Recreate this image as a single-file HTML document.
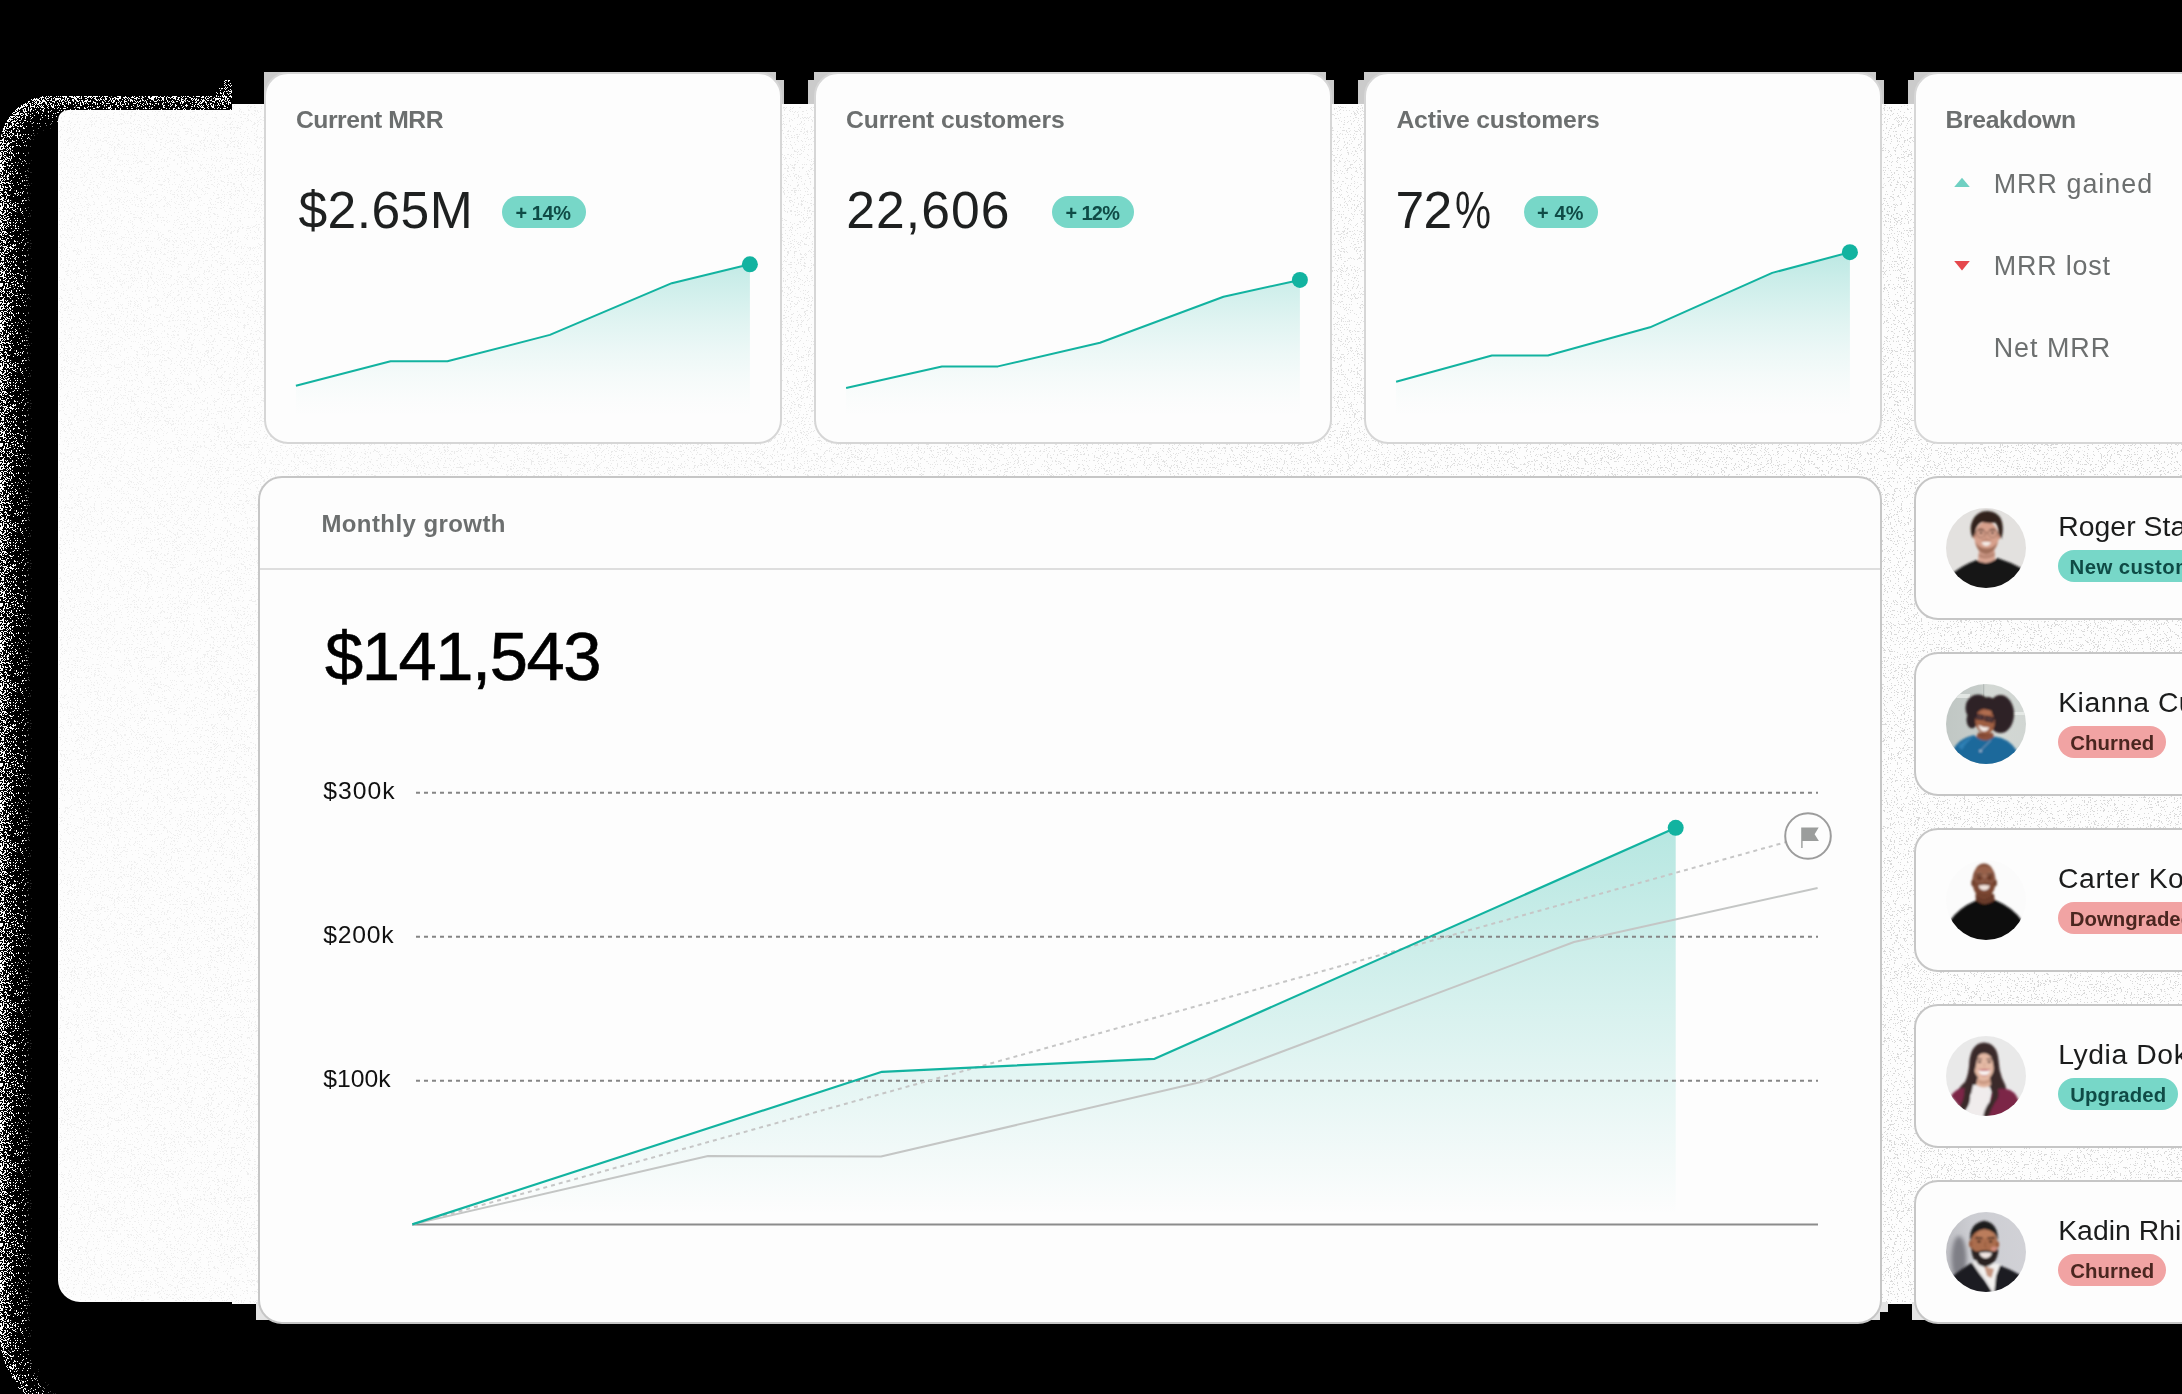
<!DOCTYPE html>
<html lang="en"><head><meta charset="utf-8"><title>Dashboard</title>
<style>
*{box-sizing:border-box;margin:0;padding:0}
html,body{width:2182px;height:1394px;overflow:hidden;background:#000}
body{position:relative;font-family:"Liberation Sans",sans-serif;color:#1f1f1f}
.abs{position:absolute}
.panel{position:absolute;left:58px;top:104px;width:2200px;height:1198px;background:#f8f8f8;border-radius:24px 0 0 24px}
.card{position:absolute;background:#fdfdfd;border:2px solid #d6d6d6;border-radius:24px}
.cardb{border-color:#c6c6c6}
.t{position:absolute;white-space:nowrap;line-height:1;transform-origin:0 0}
.title{color:#6a6d6d;font-weight:700}
.big{color:#1e1f1f}
.badge{position:absolute;height:32px;border-radius:16px}
.teal{background:#77d7c8}
.red{background:#f1a3a3}
.bt{font-weight:700}
.btt{color:#0f4b46}
.btr{color:#4f1f1f}
svg{position:absolute;left:0;top:0;overflow:visible}
</style></head>
<body>
<svg width="2182" height="1394" viewBox="0 0 2182 1394">
<defs><filter id="spk" filterUnits="userSpaceOnUse" x="0" y="0" width="2182" height="1394" color-interpolation-filters="sRGB"><feTurbulence type="fractalNoise" baseFrequency="1.6" numOctaves="1" seed="11" result="t"/><feColorMatrix in="t" type="matrix" values="0 0 0 0 0  0 0 0 0 0  0 0 0 0 0  3.2 0 0 0 -1.1" result="n"/><feComposite in="n" in2="SourceGraphic" operator="arithmetic" k1="0" k2="1" k3="1" k4="-1" result="s"/><feComponentTransfer in="s" result="m"><feFuncA type="linear" slope="40" intercept="0"/></feComponentTransfer><feFlood flood-color="#fff" result="w"/><feComposite in="w" in2="m" operator="in"/></filter><filter id="dots" filterUnits="userSpaceOnUse" x="0" y="0" width="2182" height="1394" color-interpolation-filters="sRGB"><feTurbulence type="fractalNoise" baseFrequency="1.7" numOctaves="1" seed="5" result="t"/><feColorMatrix in="t" type="matrix" values="0 0 0 0 0  0 0 0 0 0  0 0 0 0 0  3.2 0 0 0 -1.1" result="n"/><feComposite in="n" in2="SourceGraphic" operator="arithmetic" k1="0" k2="1" k3="1" k4="-1" result="s"/><feComponentTransfer in="s" result="m"><feFuncA type="linear" slope="40" intercept="0"/></feComponentTransfer><feFlood flood-color="#000" flood-opacity="0.14" result="w"/><feComposite in="w" in2="m" operator="in"/></filter><filter id="sb" filterUnits="userSpaceOnUse" x="-150" y="-50" width="700" height="1700"><feGaussianBlur stdDeviation="12"/></filter><clipPath id="sclip"><path d="M0 146 A50 50 0 0 1 50 96 H232 V120 H300 V1394 H24 A90 90 0 0 1 0 1336 Z"/></clipPath></defs>
<g filter="url(#spk)"><g clip-path="url(#sclip)"><path filter="url(#sb)" fill="#fff" fill-opacity="0.9" fill-rule="evenodd" d="M-200 -100 H600 V1700 H-200 Z M3 148 A50 50 0 0 1 53 98 H600 V1436 H93 A90 90 0 0 1 3 1346 Z"/></g><rect x="224" y="80" width="8" height="16" fill="#fff" fill-opacity="0.28"/><rect x="216" y="88" width="8" height="8" fill="#fff" fill-opacity="0.28"/></g>
</svg>
<svg width="2182" height="1394" viewBox="0 0 2182 1394"><path d="M68 110 H232 V104 H2182 V1304 H232 V1302 H80 A22 22 0 0 1 58 1280 V120 A10 10 0 0 1 68 110 Z" fill="#fdfdfd"/></svg>
<svg width="2182" height="1394" viewBox="0 0 2182 1394"><defs><linearGradient id="hmg" x1="58" y1="0" x2="1900" y2="0" gradientUnits="userSpaceOnUse"><stop offset="0" stop-color="#fff" stop-opacity="0.35"/><stop offset="1" stop-color="#fff" stop-opacity="1"/></linearGradient><mask id="hm" maskUnits="userSpaceOnUse" x="0" y="0" width="2182" height="1394"><rect width="2182" height="1394" fill="url(#hmg)"/></mask></defs><g mask="url(#hm)"><g filter="url(#dots)"><path d="M68 111 H232 V105 H2182 V1303 H232 V1301 H80 A21 21 0 0 1 59 1280 V120 A9 9 0 0 1 68 111 Z" fill="#fff" fill-opacity="0.09"/></g></g></svg>
<div class="abs" style="left:264px;top:72px;width:512px;height:8px;background:#cbcbcb"></div>
<div class="abs" style="left:264px;top:80px;width:520px;height:24px;background:#cbcbcb"></div>
<div class="abs" style="left:814px;top:72px;width:512px;height:8px;background:#cbcbcb"></div>
<div class="abs" style="left:808px;top:80px;width:526px;height:24px;background:#cbcbcb"></div>
<div class="abs" style="left:1364px;top:72px;width:512px;height:8px;background:#cbcbcb"></div>
<div class="abs" style="left:1358px;top:80px;width:526px;height:24px;background:#cbcbcb"></div>
<div class="abs" style="left:1914px;top:72px;width:512px;height:8px;background:#cbcbcb"></div>
<div class="abs" style="left:1908px;top:80px;width:526px;height:24px;background:#cbcbcb"></div>
<div class="abs" style="left:256px;top:1302px;width:16px;height:18px;background:#e4e4e4"></div>
<div class="abs" style="left:1866px;top:1302px;width:22px;height:10px;background:#e4e4e4"></div>
<div class="abs" style="left:1866px;top:1312px;width:14px;height:8px;background:#e4e4e4"></div>
<div class="abs" style="left:1912px;top:1302px;width:18px;height:18px;background:#e4e4e4"></div>
<div class="card" style="left:264px;top:72px;width:518px;height:372px"></div>
<div class="card" style="left:814px;top:72px;width:518px;height:372px"></div>
<div class="card" style="left:1364px;top:72px;width:518px;height:372px"></div>
<div class="card" style="left:1914px;top:72px;width:518px;height:372px"></div>
<div class="card cardb" style="left:258px;top:476px;width:1624px;height:848px"></div>
<div class="abs" style="left:260px;top:568px;width:1620px;height:2px;background:#dedede"></div>
<div class="card cardb" style="left:1914px;top:476px;width:400px;height:144px"></div>
<div class="card cardb" style="left:1914px;top:652px;width:400px;height:144px"></div>
<div class="card cardb" style="left:1914px;top:828px;width:400px;height:144px"></div>
<div class="card cardb" style="left:1914px;top:1004px;width:400px;height:144px"></div>
<div class="card cardb" style="left:1914px;top:1180px;width:400px;height:144px"></div>
<div class="badge teal" style="left:502px;top:196px;width:84px"></div>
<div class="badge teal" style="left:1052px;top:196px;width:82px"></div>
<div class="badge teal" style="left:1524px;top:196px;width:74px"></div>
<div class="badge teal" style="left:2058.3px;top:550px;width:200.0px;height:32px"></div>
<div class="badge red" style="left:2058.3px;top:726px;width:107.6px;height:32px"></div>
<div class="badge red" style="left:2058.3px;top:902px;width:200.0px;height:32px"></div>
<div class="badge teal" style="left:2058.3px;top:1078px;width:119.4px;height:32px"></div>
<div class="badge red" style="left:2058.3px;top:1254px;width:107.6px;height:32px"></div>
<svg width="2182" height="1394" viewBox="0 0 2182 1394">
<defs>
<linearGradient id="gs" x1="0" y1="0" x2="0" y2="1" gradientUnits="userSpaceOnUse" gradientTransform="translate(0,252) scale(1,166)"><stop offset="0.00" stop-color="#12b3a0" stop-opacity="0.280"/><stop offset="0.15" stop-color="#12b3a0" stop-opacity="0.219"/><stop offset="0.30" stop-color="#12b3a0" stop-opacity="0.164"/><stop offset="0.45" stop-color="#12b3a0" stop-opacity="0.114"/><stop offset="0.60" stop-color="#12b3a0" stop-opacity="0.071"/><stop offset="0.75" stop-color="#12b3a0" stop-opacity="0.035"/><stop offset="0.90" stop-color="#12b3a0" stop-opacity="0.009"/><stop offset="1.00" stop-color="#12b3a0" stop-opacity="0.000"/></linearGradient>
<linearGradient id="gm" x1="0" y1="828" x2="0" y2="1215" gradientUnits="userSpaceOnUse"><stop offset="0" stop-color="#12b3a0" stop-opacity="0.30"/><stop offset="1" stop-color="#12b3a0" stop-opacity="0"/></linearGradient>
</defs>
<path d="M295.9 385.7 L390.6 361.3 L447.4 361.3 L549.9 334.9 L671.8 283.2 L749.9 264.3 L749.9 418 L295.9 418 Z" fill="url(#gs)"/>
<path d="M295.9 385.7 L390.6 361.3 L447.4 361.3 L549.9 334.9 L671.8 283.2 L749.9 264.3" fill="none" stroke="#12b3a0" stroke-width="2" stroke-linejoin="round"/>
<circle cx="749.9" cy="264.3" r="8" fill="#12b3a0"/>
<path d="M846.1 388.0 L941.9 366.4 L997.9 366.4 L1100.0 342.7 L1223.5 296.8 L1299.9 279.9 L1299.9 418 L846.1 418 Z" fill="url(#gs)"/>
<path d="M846.1 388.0 L941.9 366.4 L997.9 366.4 L1100.0 342.7 L1223.5 296.8 L1299.9 279.9" fill="none" stroke="#12b3a0" stroke-width="2" stroke-linejoin="round"/>
<circle cx="1299.9" cy="279.9" r="8" fill="#12b3a0"/>
<path d="M1396.1 381.8 L1491.9 355.5 L1547.9 355.5 L1650.0 327.3 L1772.2 272.9 L1849.9 252.2 L1849.9 418 L1396.1 418 Z" fill="url(#gs)"/>
<path d="M1396.1 381.8 L1491.9 355.5 L1547.9 355.5 L1650.0 327.3 L1772.2 272.9 L1849.9 252.2" fill="none" stroke="#12b3a0" stroke-width="2" stroke-linejoin="round"/>
<circle cx="1849.9" cy="252.2" r="8" fill="#12b3a0"/>
<path d="M412.3 1224.4 L882.0 1071.8 L1154.6 1058.8 L1675.7 827.8 L1675.7 1224.4 Z" fill="url(#gm)"/>
<line x1="412" y1="792.8" x2="1818" y2="792.8" stroke="#858585" stroke-width="2" stroke-dasharray="4 4" stroke-dashoffset="4"/>
<line x1="412" y1="936.8" x2="1818" y2="936.8" stroke="#858585" stroke-width="2" stroke-dasharray="4 4" stroke-dashoffset="4"/>
<line x1="412" y1="1080.8" x2="1818" y2="1080.8" stroke="#858585" stroke-width="2" stroke-dasharray="4 4" stroke-dashoffset="4"/>
<line x1="412" y1="1224.4" x2="1818" y2="1224.4" stroke="#8c8c8c" stroke-width="2"/>
<line x1="412.3" y1="1224.4" x2="1808" y2="836" stroke="#c6c6c6" stroke-width="2" stroke-dasharray="4 4"/>
<path d="M412.3 1224.4 L708.0 1156.0 L881.0 1156.5 L1201.0 1082.0 L1574.0 942.0 L1817.6 888.0" fill="none" stroke="#c4c6c5" stroke-width="2" stroke-linejoin="round"/>
<path d="M412.3 1224.4 L882.0 1071.8 L1154.6 1058.8 L1675.7 827.8" fill="none" stroke="#12b3a0" stroke-width="2.2" stroke-linejoin="round"/>
<circle cx="1675.7" cy="827.8" r="8" fill="#12b3a0"/>
<circle cx="1808" cy="836" r="22.8" fill="#fdfdfd" stroke="#9c9c9c" stroke-width="2"/>
<path d="M1801.2 827.4 H1818.7 L1814.6 834.2 L1818.9 840.9 H1802.6 V848.1 H1801.2 Z" fill="#9b9d9c"/>
<path d="M1954.2 186.9 L1962 177.8 L1969.8 186.9 Z" fill="#6fd0c2"/>
<path d="M1954.2 261 L1969.8 261 L1962 270.5 Z" fill="#e5484d"/>
<defs><clipPath id="av"><circle cx="50" cy="50" r="40"/></clipPath><filter id="b1" x="-20%" y="-20%" width="140%" height="140%"><feGaussianBlur stdDeviation="0.9"/></filter><filter id="b2" x="-30%" y="-30%" width="160%" height="160%"><feGaussianBlur stdDeviation="2.2"/></filter><linearGradient id="kbg" x1="0" y1="0" x2="1" y2="0"><stop offset="0" stop-color="#bfc6c3"/><stop offset="0.45" stop-color="#c6ccc9"/><stop offset="0.5" stop-color="#d3d8d4"/><stop offset="1" stop-color="#d0d5d2"/></linearGradient><linearGradient id="dbg" x1="0" y1="0" x2="1" y2="0"><stop offset="0" stop-color="#b9b9be"/><stop offset="0.35" stop-color="#cccdd2"/><stop offset="1" stop-color="#d2d2d7"/></linearGradient></defs>
<g transform="translate(1936,498)"><g clip-path="url(#av)"><rect width="100" height="100" fill="#e3e1df"/><g filter="url(#b1)"><path d="M42 64 L43 52 H58.5 L59 62 Q50 70 42 64Z" fill="#d9a593"/><path d="M43 55 Q50 60 58.5 54 L58.7 58 Q50 63 42.6 59Z" fill="#b98673"/><ellipse cx="50.5" cy="39.5" rx="12" ry="16" fill="#d7a08c"/><ellipse cx="38.6" cy="38" rx="1.6" ry="3" fill="#c98f7c"/><ellipse cx="62.6" cy="38.5" rx="1.6" ry="3" fill="#c98f7c"/><path d="M39.5 44 Q41 55 50 56.5 Q59 55.5 61.5 44 Q58 50 50.5 50.5 Q43 50 39.5 44Z" fill="#a2705c"/><path d="M45.5 44.2 Q50 43.4 55 44.2 Q53.5 48 50.2 48 Q47 48 45.5 44.2Z" fill="#f4ebe6"/><path d="M44 42.5 Q50 40.5 57 42.5 Q50 42 44 42.5Z" fill="#8e5d4c"/><ellipse cx="45" cy="35" rx="1.5" ry="0.9" fill="#3a2a25"/><ellipse cx="56.5" cy="35" rx="1.5" ry="0.9" fill="#3a2a25"/><path d="M42 32.3 Q45 31 48 32.4 M53.5 32.4 Q56.5 31 59.5 32.3" stroke="#4a362e" stroke-width="1.1" fill="none"/><circle cx="44.8" cy="35.2" r="4.4" fill="none" stroke="#7a5546" stroke-width="0.7"/><circle cx="56.6" cy="35.2" r="4.4" fill="none" stroke="#7a5546" stroke-width="0.7"/><path d="M49.2 34.6 H52.2 M40.4 34.5 L38.5 34 M61 34.5 L63 34" stroke="#7a5546" stroke-width="0.7"/><path d="M50 36 Q49 40 50.6 41.2" stroke="#bb8471" stroke-width="0.9" fill="none"/><path d="M36.5 40 Q32.5 30 37 21.5 Q42 12.5 52 13 Q61 13.5 65 21 Q68.5 29 65.5 41 L62.6 36 Q62.5 28 59 24.5 Q53 26 46 24 Q41.5 26 40 31 L38.6 37Z" fill="#30241e"/><path d="M17 75 Q27 67 40.5 62 Q50 69 61.5 60 Q74 64 85 70 L85 100 H15Z" fill="#191919"/></g></g></g>
<g transform="translate(1936,674)"><g clip-path="url(#av)"><rect width="100" height="100" fill="url(#kbg)"/><rect x="47" y="8" width="1.2" height="30" fill="#b4bbb8"/><rect x="68" y="38" width="22" height="3" fill="#e4e8e5"/><rect x="20" y="20" width="14" height="4" fill="#e2e6e3"/><g filter="url(#b1)"><ellipse cx="42" cy="34" rx="12.5" ry="13.5" fill="#2e2325"/><ellipse cx="64.5" cy="40" rx="13.5" ry="19" fill="#2e2325"/><ellipse cx="36" cy="46" rx="5.5" ry="8.5" fill="#2e2325"/><ellipse cx="52" cy="30" rx="8" ry="7" fill="#2e2325"/><path d="M42 59 H57 L58.5 66 Q50 72 39.5 65Z" fill="#8c503a"/><ellipse cx="49" cy="47.5" rx="9.8" ry="12.5" transform="rotate(-8 49 47.5)" fill="#9f5e43"/><ellipse cx="50" cy="39" rx="6" ry="3" transform="rotate(-8 50 39)" fill="#b06d50"/><path d="M40 40.5 L47.5 41.5 L47 45.5 L40.5 44.8 Z M49.5 42.2 L57.5 44 L56.6 48 L49.2 46.4Z" fill="#5a3c3c" stroke="#241c28" stroke-width="1.2"/><path d="M42.5 51 Q47 53.5 53.5 53.5 Q51 58 46.8 57.3 Q43.5 56.5 42.5 51Z" fill="#f3ebe6"/><path d="M42 58 Q47 62 54 59.5 Q49 63.5 44 61.5Z" fill="#7c4430"/><path d="M17 77 Q21 65 38 61 Q48 71 58.5 62.5 Q73 64 81 77 L84 100 H14Z" fill="#1f699b"/><path d="M22 72 Q30 64 38 62.5 Q30 68 26 76Z" fill="#2f7fb3"/><path d="M55 66 L45 76" stroke="#9db8cc" stroke-width="0.7" fill="none"/><circle cx="44.5" cy="77" r="1.3" fill="#a9c3d6"/></g></g></g>
<g transform="translate(1936,850)"><g clip-path="url(#av)"><rect width="100" height="100" fill="#fbfbfb"/><g filter="url(#b1)"><path d="M39.5 44 H58 L59.5 56 H40Z" fill="#693b29"/><ellipse cx="48" cy="31" rx="11.6" ry="17.4" fill="#7c4733"/><ellipse cx="36.8" cy="33" rx="1.5" ry="3.2" fill="#6b3c2a"/><ellipse cx="59.4" cy="33" rx="1.5" ry="3.2" fill="#6b3c2a"/><ellipse cx="48" cy="21.5" rx="8.5" ry="5.5" fill="#97614a"/><ellipse cx="48" cy="33" rx="3" ry="2" fill="#8f5a43"/><path d="M40.5 24.5 Q43.5 23.3 46.5 24.6 M50.5 24.6 Q53.5 23.3 56.5 24.5" stroke="#3d2218" stroke-width="1.1" fill="none"/><ellipse cx="43.5" cy="27.3" rx="1.4" ry="0.9" fill="#2a1811"/><ellipse cx="53.5" cy="27.3" rx="1.4" ry="0.9" fill="#2a1811"/><circle cx="43.3" cy="27.6" r="4.6" fill="none" stroke="#b48a78" stroke-width="0.6"/><circle cx="53.9" cy="27.6" r="4.6" fill="none" stroke="#b48a78" stroke-width="0.6"/><path d="M47.9 27 H49.3" stroke="#b48a78" stroke-width="0.6"/><path d="M42.5 35.6 Q48 34.6 54 35.6 Q52.5 40.5 48.2 40.5 Q44 40.5 42.5 35.6Z" fill="#f2e4de"/><path d="M41 34 Q48 32 55.5 34 Q48 33.4 41 34Z" fill="#4a2a1e"/><path d="M41.5 42 Q48 50 55.5 42 Q52 45.5 48.3 45.5 Q45 45.5 41.5 42Z" fill="#3a2219"/><path d="M14 71 Q22 58 40 50.5 Q49 58 59 50 Q78 58 86 71 L86 100 H14Z" fill="#0d0d0d"/></g></g></g>
<g transform="translate(1936,1026)"><g clip-path="url(#av)"><rect width="100" height="100" fill="#e9e9e9"/><g filter="url(#b1)"><path d="M48 16.5 Q36 17 33.5 34 Q33 48 29 56 Q22 62 19 70 L26 82 L40 60 L58 60 L50 90 L70 80 Q74 66 66 52 Q63 44 62.5 34 Q61 17 48 16.5Z" fill="#3a2a2c"/><path d="M37 59 H54 L52 95 H30 Z" fill="#f0ecec"/><path d="M41.5 52 H54 L55 59.5 Q47 63.5 40 59Z" fill="#e0b29c"/><path d="M42 53.5 Q48 57 54 53 L54.3 56 Q48 60 41.6 56.5Z" fill="#c99882"/><ellipse cx="48" cy="40.5" rx="10" ry="13.3" fill="#e4b9a4"/><path d="M42 44.3 Q48 45.6 54.5 44.3 Q53 49.3 48.2 49.3 Q43.5 49.3 42 44.3Z" fill="#f8f1f0"/><path d="M41.5 43.5 Q48 42.6 55 43.5 Q54 44.6 48.2 44.8 Q43 44.6 41.5 43.5Z M43.5 49 Q48 51.5 53 49 Q48 50.2 43.5 49Z" fill="#c46a72"/><path d="M40.8 33.4 Q43.5 32.2 46 33.4 M50.5 33.4 Q53 32.2 56 33.4" stroke="#4a3230" stroke-width="1" fill="none"/><ellipse cx="43.6" cy="36" rx="1.7" ry="1" fill="#3a2626"/><ellipse cx="53.2" cy="36" rx="1.7" ry="1" fill="#3a2626"/><path d="M48.5 37 Q47.6 41 49 42" stroke="#cf9f8a" stroke-width="0.8" fill="none"/><path d="M37.5 36 Q38.5 25 47 22 Q43 27 41 33 Q40 40 38.5 46 Z M58.5 36 Q58 25 49 22 Q54 26 56 32 Q57.5 40 58.5 46Z" fill="#3a2a2c"/><path d="M15 70 Q20 62 28 62 L34 70 L26 84 Z" fill="#7c2546"/><path d="M56 66 Q64 60 74 64 Q82 68 84 80 L66 92 L50 92 Z" fill="#7c2546"/><path d="M53 60 Q60 70 52 78 Q48 84 47 92 L53 90 Q56 80 62 72 Q64 64 58 58Z" fill="#3a2a2c"/><path d="M31 64 Q36 70 33 78 Q30 84 27 86 L24 80 Q29 72 28 64Z" fill="#3a2a2c"/></g></g></g>
<g transform="translate(1936,1202)"><g clip-path="url(#av)"><rect width="100" height="100" fill="url(#dbg)"/><ellipse cx="23" cy="57" rx="7.5" ry="23" fill="#7f7f86" filter="url(#b2)"/><g filter="url(#b1)"><path d="M37 60 L64 62 L58 92 L50 78Z" fill="#f3f1ef"/><path d="M48 64 L58 67 L55.5 76 L51 74Z" fill="#c49580"/><ellipse cx="48" cy="42" rx="13.2" ry="16.5" fill="#ab6d4d"/><ellipse cx="34.6" cy="42" rx="1.6" ry="3.4" fill="#96593c"/><ellipse cx="61.6" cy="42.5" rx="1.5" ry="3.2" fill="#96593c"/><ellipse cx="49" cy="32" rx="8.5" ry="4.5" fill="#bb7d5c"/><ellipse cx="58" cy="47" rx="3" ry="2.4" fill="#d08a7a"/><path d="M34.3 39 Q32.5 22 48 18.8 Q62.5 21 61.8 39 Q59.5 28 48.5 27 Q38 28 34.3 39Z" fill="#1c1b1d"/><path d="M39.5 36.4 Q43 34.8 46.5 36.4 M51.5 36.4 Q55 34.8 58.5 36.4" stroke="#1f1714" stroke-width="1.3" fill="none"/><ellipse cx="43" cy="39.6" rx="1.8" ry="1" fill="#1f1512"/><ellipse cx="54.6" cy="39.6" rx="1.8" ry="1" fill="#1f1512"/><path d="M49.5 40 Q48.2 45 50.4 46.4" stroke="#8f5638" stroke-width="1" fill="none"/><path d="M35.2 45 Q35.5 62 49 65 Q62.5 62 62.2 46 Q59 50.5 55.8 49.2 Q49 47.2 42.5 49.2 Q38.5 50.5 35.2 45Z" fill="#2a2422"/><path d="M43.2 50.8 Q49.5 49.8 56 50.8 Q54.5 56.2 49.6 56.2 Q45 56.2 43.2 50.8Z" fill="#f1e6e4"/><path d="M17 74 Q24 68 36 60.5 L44 72 L58 93 L14 100Z" fill="#1b1b22"/><path d="M64 63.5 Q76 68 86 74 L86 100 L58 93 L60 74Z" fill="#1b1b22"/><path d="M36 60.5 L40 58 L50 78 L44 72Z" fill="#e9e7e6"/></g></g></g>
</svg>
<div style="position:absolute;left:0;top:0;width:2182px;height:1394px;will-change:transform"><div class="t" style="left:296.03px;top:108px;font-size:24.71px;font-weight:700;color:#6c6f6f;letter-spacing:-0.483px;">Current MRR</div>
<div class="t" style="left:846.03px;top:108px;font-size:24.71px;font-weight:700;color:#6c6f6f;letter-spacing:-0.150px;">Current customers</div>
<div class="t" style="left:1396.41px;top:108px;font-size:24.71px;font-weight:700;color:#6c6f6f;letter-spacing:-0.168px;">Active customers</div>
<div class="t" style="left:1945.46px;top:108px;font-size:24.71px;font-weight:700;color:#6c6f6f;letter-spacing:-0.319px;">Breakdown</div>
<div class="t" style="left:298.40px;top:185px;font-size:51.60px;font-weight:400;color:#1e2020;letter-spacing:0.454px;">$2.65M</div>
<div class="t" style="left:846.28px;top:185px;font-size:51.60px;font-weight:400;color:#1e2020;letter-spacing:1.057px;">22,606</div>
<div class="t" style="left:1395.48px;top:185px;font-size:51.60px;font-weight:400;color:#1e2020;letter-spacing:-0.685px;">72</div>
<div class="t" style="left:1455.04px;top:185px;font-size:51.60px;font-weight:400;color:#1e2020;letter-spacing:0.000px;transform:scaleX(0.7840);">%</div>
<div class="t" style="left:515.38px;top:204px;font-size:19.91px;font-weight:700;color:#0f4b46;letter-spacing:-0.376px;">+ 14%</div>
<div class="t" style="left:1065.38px;top:204px;font-size:19.91px;font-weight:700;color:#0f4b46;letter-spacing:-0.576px;">+ 12%</div>
<div class="t" style="left:1537.08px;top:204px;font-size:19.91px;font-weight:700;color:#0f4b46;letter-spacing:0.190px;">+ 4%</div>
<div class="t" style="left:1993.70px;top:171px;font-size:26.89px;font-weight:400;color:#6c6f6f;letter-spacing:1.017px;">MRR gained</div>
<div class="t" style="left:1993.70px;top:253px;font-size:26.89px;font-weight:400;color:#6c6f6f;letter-spacing:0.836px;">MRR lost</div>
<div class="t" style="left:1993.70px;top:335px;font-size:26.89px;font-weight:400;color:#6c6f6f;letter-spacing:0.980px;">Net MRR</div>
<div class="t" style="left:321.40px;top:512px;font-size:23.98px;font-weight:700;color:#6c6f6f;letter-spacing:0.437px;">Monthly growth</div>
<div class="t" style="left:324.90px;top:623px;font-size:68.75px;font-weight:400;color:#000;letter-spacing:-1.438px;-webkit-text-stroke:0.6px #000;">$141,543</div>
<div class="t" style="left:323.20px;top:779px;font-size:24.71px;font-weight:400;color:#111;letter-spacing:1.022px;">$300k</div>
<div class="t" style="left:323.20px;top:923px;font-size:24.71px;font-weight:400;color:#111;letter-spacing:0.772px;">$200k</div>
<div class="t" style="left:323.20px;top:1067px;font-size:24.71px;font-weight:400;color:#111;letter-spacing:0.022px;">$100k</div>
<div class="t" style="left:2058.19px;top:512px;font-size:28.34px;font-weight:400;color:#1b1c1c;letter-spacing:0.068px;">Roger Stanton</div>
<div class="t" style="left:2069.53px;top:557px;font-size:20.35px;font-weight:700;color:#0f4b46;letter-spacing:0.433px;">New customer</div>
<div class="t" style="left:2058.19px;top:688px;font-size:28.34px;font-weight:400;color:#1b1c1c;letter-spacing:0.516px;">Kianna Curtis</div>
<div class="t" style="left:2070.36px;top:733px;font-size:20.35px;font-weight:700;color:#4a2620;letter-spacing:0.047px;">Churned</div>
<div class="t" style="left:2058.07px;top:864px;font-size:28.34px;font-weight:400;color:#1b1c1c;letter-spacing:0.574px;">Carter Korsgaard</div>
<div class="t" style="left:2069.73px;top:909px;font-size:20.35px;font-weight:700;color:#4a2620;letter-spacing:0.022px;">Downgraded</div>
<div class="t" style="left:2058.19px;top:1040px;font-size:28.34px;font-weight:400;color:#1b1c1c;letter-spacing:0.595px;">Lydia Dokidis</div>
<div class="t" style="left:2070.25px;top:1085px;font-size:20.35px;font-weight:700;color:#0f4b46;letter-spacing:0.126px;">Upgraded</div>
<div class="t" style="left:2058.19px;top:1216px;font-size:28.34px;font-weight:400;color:#1b1c1c;letter-spacing:0.038px;">Kadin Rhiel Madsen</div>
<div class="t" style="left:2070.36px;top:1261px;font-size:20.35px;font-weight:700;color:#4a2620;letter-spacing:0.047px;">Churned</div>
</div>
</body></html>
